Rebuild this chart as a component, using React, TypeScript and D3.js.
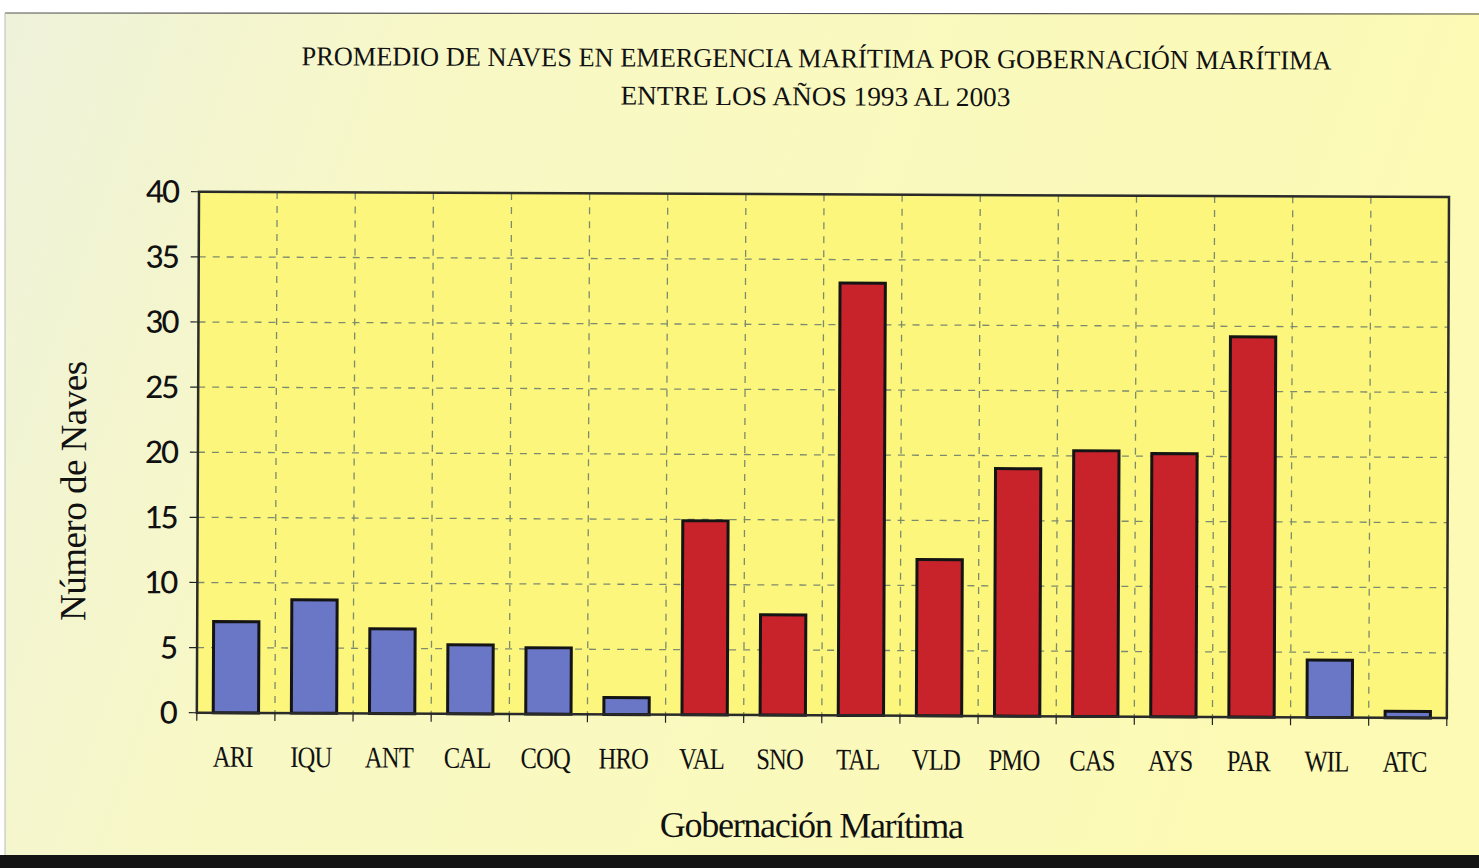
import React from "react";
import * as d3 from "d3";

const categories = ["ARI","IQU","ANT","CAL","COQ","HRO","VAL","SNO","TAL","VLD","PMO","CAS","AYS","PAR","WIL","ATC"];
const values = [7.0, 8.7, 6.5, 5.3, 5.1, 1.3, 14.9, 7.7, 33.2, 12.0, 19.0, 20.4, 20.2, 29.2, 4.4, 0.5];
const highlight = [false,false,false,false,false,false,true,true,true,true,true,true,true,true,false,false];
const yTicks = [0,5,10,15,20,25,30,35,40];
const titleLines = ["PROMEDIO DE NAVES EN EMERGENCIA MARÍTIMA POR GOBERNACIÓN MARÍTIMA", "ENTRE LOS AÑOS 1993  AL  2003"];
const yTitle = "Número de Naves";
const xTitle = "Gobernación Marítima";

const W = 1479, H = 868;
const M = { left: 198, right: 1448, top: 194, bottom: 715 };

export default function App() {
  const x = d3.scaleBand<string>().domain(categories).range([M.left, M.right]).paddingInner(0.42).paddingOuter(0.21);
  const xb = d3.scaleBand<string>().domain(categories).range([M.left, M.right]);
  const y = d3.scaleLinear().domain([0, 40]).range([M.bottom, M.top]);
  const serif = "'Liberation Serif', 'DejaVu Serif', serif";
  const sans = "Lato, 'Open Sans', sans-serif";
  const grid = "#7d8a6e";
  const boundaries = categories.map((c) => xb(c)!).concat([M.right]);
  return (
    <svg width={W} height={H} style={{ position: "absolute", left: 0, top: 0 }}>
      <defs>
        <linearGradient id="bg" x1="0" y1="0" x2="1" y2="0.2">
          <stop offset="0" stopColor="#eef2da" />
          <stop offset="0.3" stopColor="#f8f8c6" />
          <stop offset="1" stopColor="#fcfab4" />
        </linearGradient>
      </defs>
      <rect x={0} y={0} width={W} height={H} fill="#ffffff" />
      <rect x={5} y={13} width={W - 5} height={843} fill="url(#bg)" />
      <line x1={5} x2={W} y1={13} y2={14} stroke="#555" strokeWidth={1.2} />
      <line x1={5} x2={5} y1={13} y2={856} stroke="#bbb" strokeWidth={1} />
      <rect x={0} y={855} width={W} height={13} fill="#141414" />
      <g transform={`rotate(0.24 ${W / 2} ${H / 2})`}>
        <text x={815} y={67} textAnchor="middle" fontFamily={serif} fontSize={27} textLength={1030} lengthAdjust="spacingAndGlyphs" fill="#111">{titleLines[0]}</text>
        <text x={814} y={105} textAnchor="middle" fontFamily={serif} fontSize={27} textLength={390} lengthAdjust="spacingAndGlyphs" fill="#111">{titleLines[1]}</text>
        <rect x={M.left} y={M.top} width={M.right - M.left} height={M.bottom - M.top} fill="#fcf77c" />
        {yTicks.filter((t) => t > 0 && t < 40).map((t) => (
          <line key={"h" + t} x1={M.left} x2={M.right} y1={y(t)} y2={y(t)} stroke={grid} strokeWidth={1.3} strokeDasharray="7,7" />
        ))}
        {boundaries.slice(1, -1).map((b, i) => (
          <line key={"v" + i} x1={b} x2={b} y1={M.top} y2={M.bottom} stroke={grid} strokeWidth={1.3} strokeDasharray="7,7" />
        ))}
        {categories.map((c, i) => (
          <rect key={c} x={x(c)!} y={y(values[i])} width={x.bandwidth()} height={y(0) - y(values[i])}
            fill={highlight[i] ? "#c8232b" : "#6a76c6"} stroke="#141414" strokeWidth={3} />
        ))}
        <rect x={M.left} y={M.top} width={M.right - M.left} height={M.bottom - M.top} fill="none" stroke="#2a2a2a" strokeWidth={2.5} />
        {yTicks.map((t) => (
          <g key={"yt" + t}>
            <line x1={M.left - 8} x2={M.left} y1={y(t)} y2={y(t)} stroke="#222" strokeWidth={1.2} />
            <text x={177} y={y(t) + 11} textAnchor="end" fontFamily={sans} fontSize={31} fontWeight={500} fill="#111" letterSpacing={-2}>{t}</text>
          </g>
        ))}
        {boundaries.map((b, i) => (
          <line key={"xt" + i} x1={b} x2={b} y1={M.bottom} y2={M.bottom + 8} stroke="#222" strokeWidth={1.2} />
        ))}
        {categories.map((c) => (
          <g key={"l" + c} transform={`translate(${xb(c)! + xb.bandwidth() / 2 - 3} 769) scale(0.82 1)`}>
            <text x={0} y={0} textAnchor="middle" fontFamily={serif} fontSize={30} fill="#111" letterSpacing={-1}>{c}</text>
          </g>
        ))}
        <text transform={`translate(86 ${494}) rotate(-90)`} textAnchor="middle" fontFamily={serif} fontSize={37} fill="#111" letterSpacing={-0.5}>{yTitle}</text>
        <text x={813} y={837} textAnchor="middle" fontFamily={serif} fontSize={36} fill="#111" letterSpacing={-1.3}>{xTitle}</text>
      </g>
    </svg>
  );
}
